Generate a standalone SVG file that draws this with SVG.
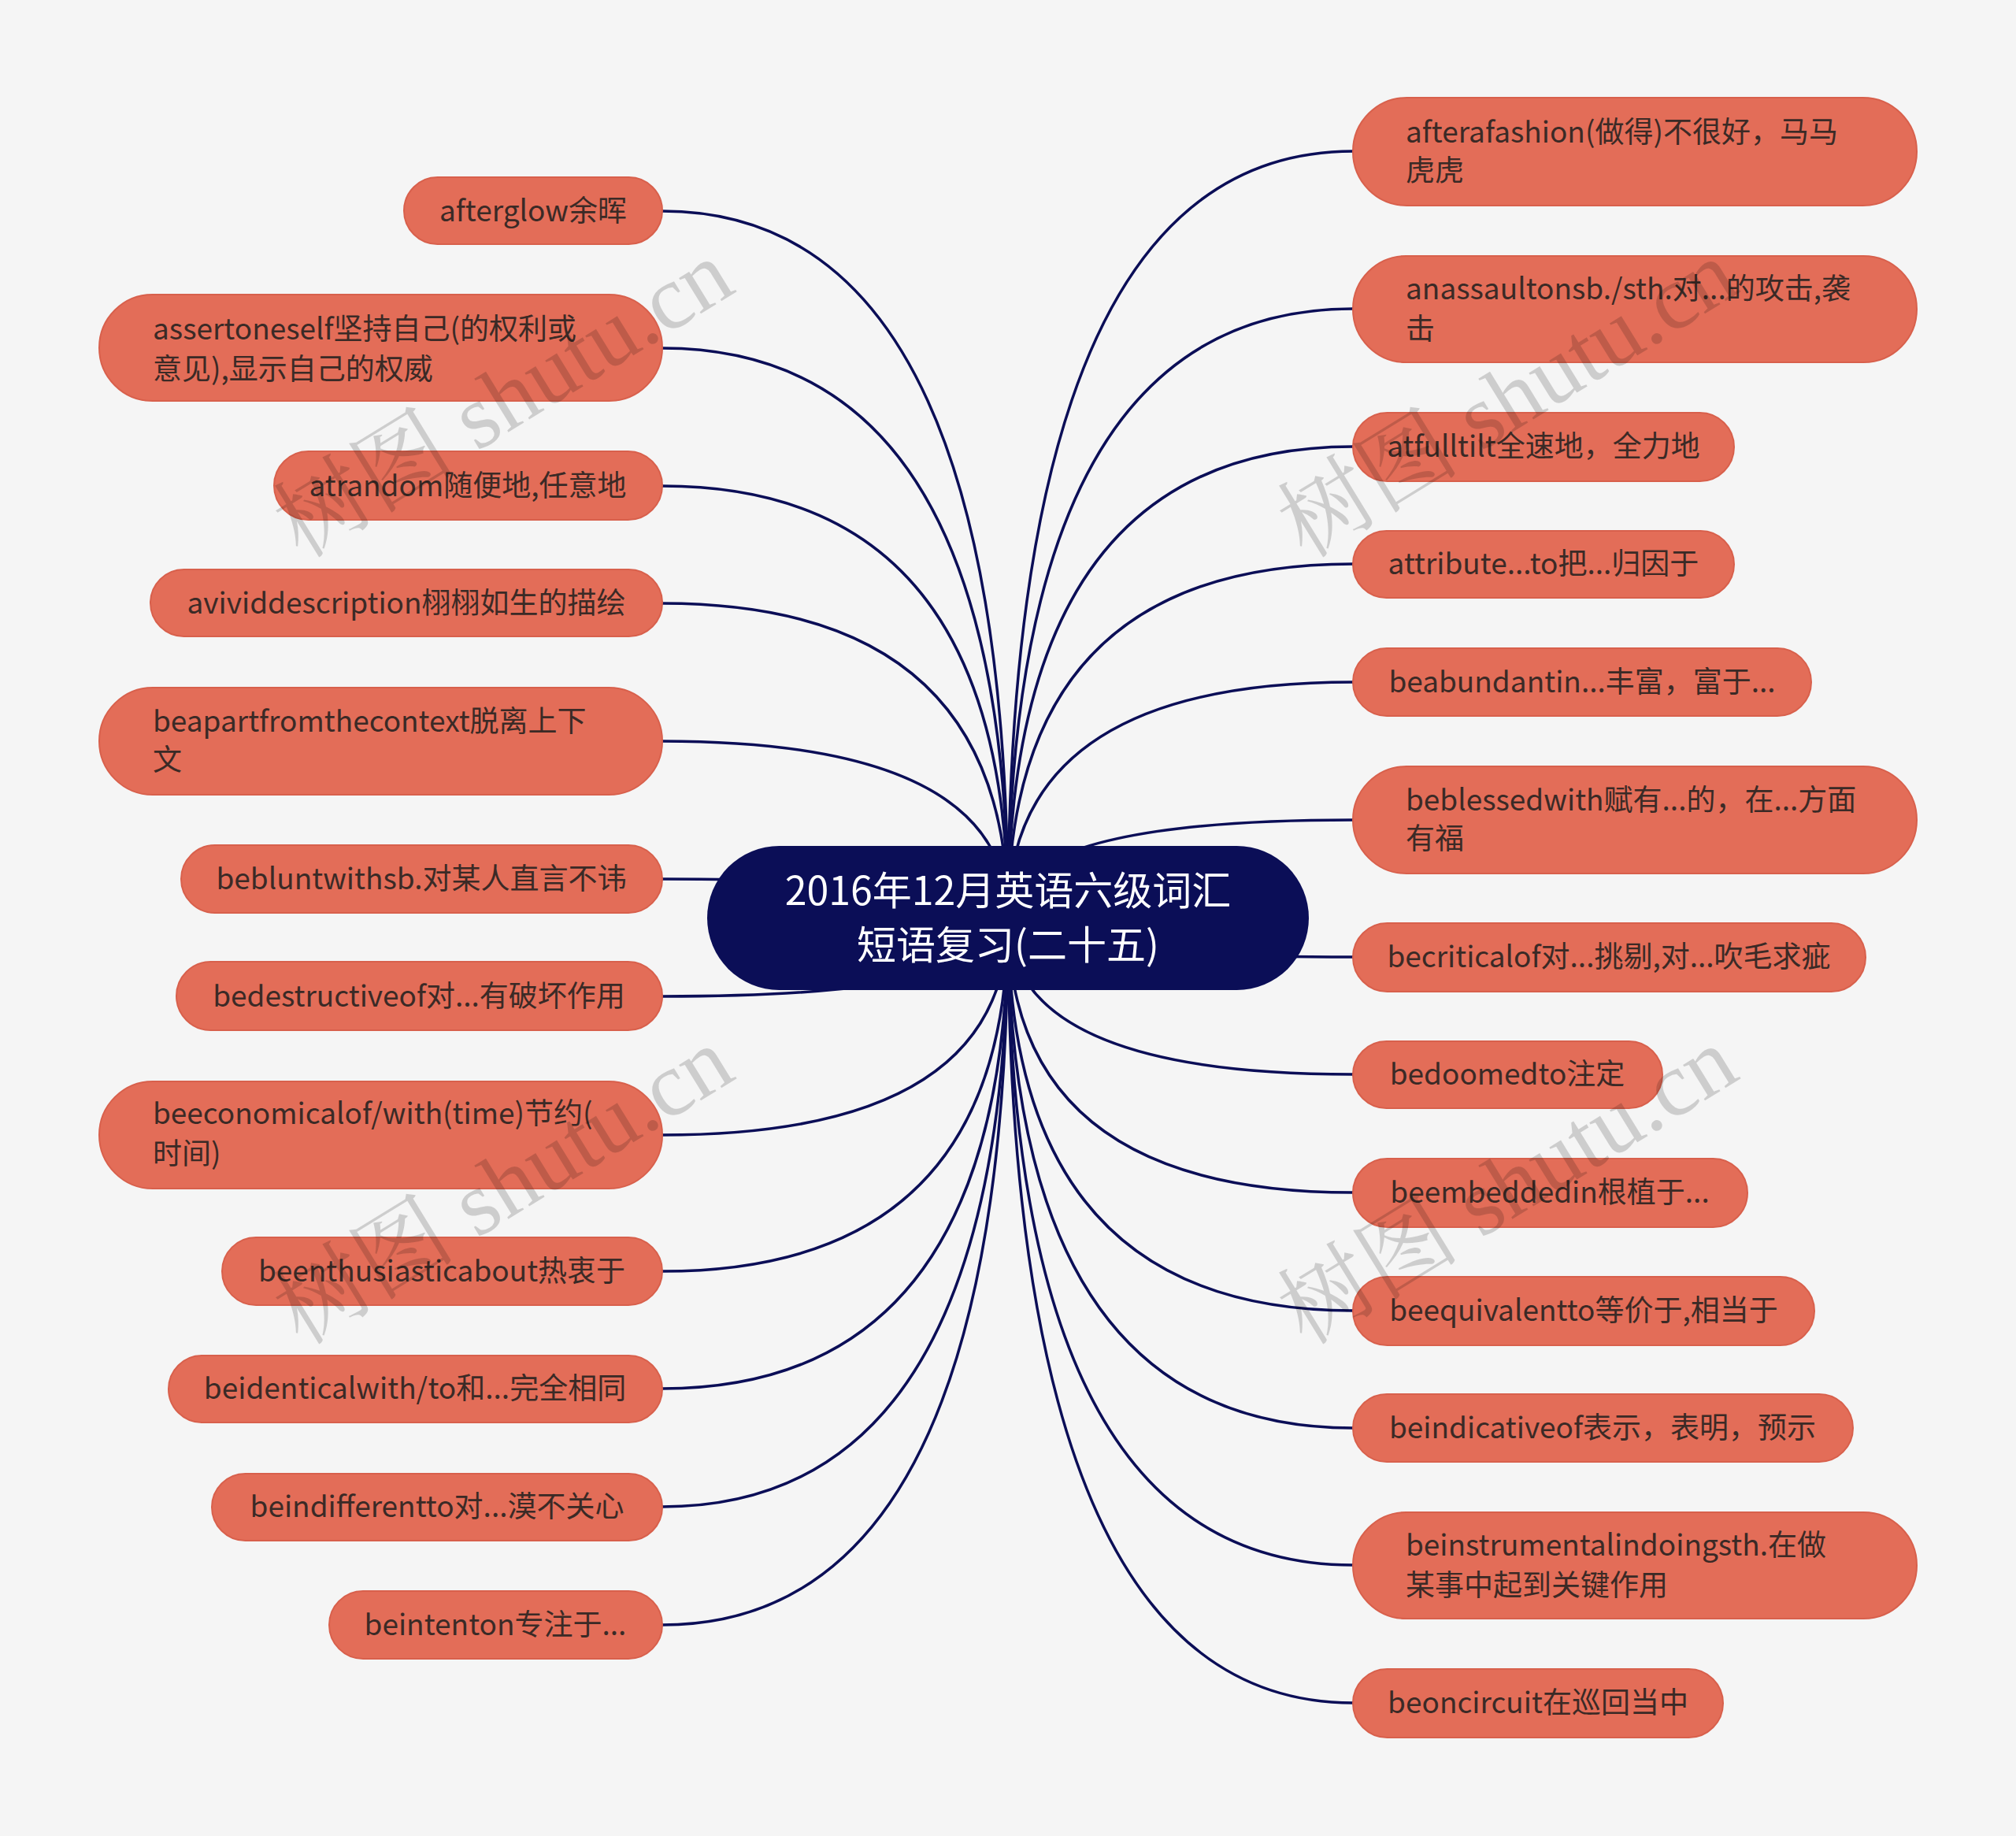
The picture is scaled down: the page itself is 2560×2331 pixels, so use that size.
<svg xmlns="http://www.w3.org/2000/svg" width="2560" height="2331" viewBox="0 0 2560 2331">
<style>
.bg{fill:#f5f5f5}
.n rect{fill:#e36d58;stroke:#d8604c;stroke-width:2}
.n text{font-family:"Noto Sans CJK SC","Noto Sans",sans-serif;font-size:37px;fill:#3b2a26}
.c{text-anchor:middle}
.root rect{fill:#0b0e57}
.root text{font-family:"Noto Sans CJK SC","Noto Sans",sans-serif;font-size:50px;fill:#ffffff;text-anchor:middle}
.links path{fill:none;stroke:#0b0e57;stroke-width:3.5}
.wm{font-family:"Liberation Serif","Noto Serif CJK SC","Noto Sans CJK SC",serif;font-size:116px;fill:#000;fill-opacity:0.16}
</style>
<rect class="bg" x="0" y="0" width="2560" height="2331"/>
<g class="links">
<path d="M1280 1165 Q1280 268 841 268"/>
<path d="M1280 1165 Q1280 442 841 442"/>
<path d="M1280 1165 Q1280 617 841 617"/>
<path d="M1280 1165 Q1280 766 841 766"/>
<path d="M1280 1165 Q1280 941 841 941"/>
<path d="M1280 1165 Q1280 1116 841 1116"/>
<path d="M1280 1165 Q1280 1265 841 1265"/>
<path d="M1280 1165 Q1280 1441 841 1441"/>
<path d="M1280 1165 Q1280 1614 841 1614"/>
<path d="M1280 1165 Q1280 1763 841 1763"/>
<path d="M1280 1165 Q1280 1913 841 1913"/>
<path d="M1280 1165 Q1280 2063 841 2063"/>
<path d="M1280 1165 Q1280 192 1718 192"/>
<path d="M1280 1165 Q1280 392 1718 392"/>
<path d="M1280 1165 Q1280 567 1718 567"/>
<path d="M1280 1165 Q1280 716 1718 716"/>
<path d="M1280 1165 Q1280 866 1718 866"/>
<path d="M1280 1165 Q1280 1041 1718 1041"/>
<path d="M1280 1165 Q1280 1215 1718 1215"/>
<path d="M1280 1165 Q1280 1364 1718 1364"/>
<path d="M1280 1165 Q1280 1514 1718 1514"/>
<path d="M1280 1165 Q1280 1664 1718 1664"/>
<path d="M1280 1165 Q1280 1813 1718 1813"/>
<path d="M1280 1165 Q1280 1987 1718 1987"/>
<path d="M1280 1165 Q1280 2162 1718 2162"/>
</g>
<g id="root" class="root">
<rect x="898" y="1074" width="764" height="183" rx="91.5"/>
<text x="1280" y="1149">2016年12月英语六级词汇</text>
<text x="1280" y="1218">短语复习(二十五)</text>
</g>
<g id="l1" class="n"><rect x="513" y="225" width="328" height="85" rx="42.5"/><text class="c" x="677" y="281">afterglow余晖</text></g>
<g id="l2" class="n"><rect x="126" y="374" width="715" height="135" rx="67.5"/><text x="194" y="431">assertoneself坚持自己(的权利或</text><text x="194" y="482">意见),显示自己的权威</text></g>
<g id="l3" class="n"><rect x="348" y="573" width="493" height="87" rx="43.5"/><text class="c" x="594" y="630">atrandom随便地,任意地</text></g>
<g id="l4" class="n"><rect x="191" y="723" width="650" height="85" rx="42.5"/><text class="c" x="516" y="779">avividdescription栩栩如生的描绘</text></g>
<g id="l5" class="n"><rect x="126" y="873" width="715" height="136" rx="68"/><text x="194" y="929">beapartfromthecontext脱离上下</text><text x="194" y="978">文</text></g>
<g id="l6" class="n"><rect x="230" y="1073" width="611" height="86" rx="43"/><text class="c" x="535" y="1129">bebluntwithsb.对某人直言不讳</text></g>
<g id="l7" class="n"><rect x="224" y="1221" width="617" height="87" rx="43.5"/><text class="c" x="532" y="1278">bedestructiveof对...有破坏作用</text></g>
<g id="l8" class="n"><rect x="126" y="1373" width="715" height="136" rx="68"/><text x="194" y="1427">beeconomicalof/with(time)节约(</text><text x="194" y="1478">时间)</text></g>
<g id="l9" class="n"><rect x="282" y="1571" width="559" height="86" rx="43"/><text class="c" x="561" y="1627">beenthusiasticabout热衷于</text></g>
<g id="l10" class="n"><rect x="214" y="1721" width="627" height="85" rx="42.5"/><text class="c" x="527" y="1776">beidenticalwith/to和...完全相同</text></g>
<g id="l11" class="n"><rect x="269" y="1871" width="572" height="85" rx="42.5"/><text class="c" x="555" y="1926">beindifferentto对...漠不关心</text></g>
<g id="l12" class="n"><rect x="418" y="2020" width="423" height="86" rx="43"/><text class="c" x="629" y="2076">beintenton专注于...</text></g>
<g id="r1" class="n"><rect x="1718" y="124" width="716" height="137" rx="68.5"/><text x="1785" y="181">afterafashion(做得)不很好，马马</text><text x="1785" y="230">虎虎</text></g>
<g id="r2" class="n"><rect x="1718" y="325" width="716" height="135" rx="67.5"/><text x="1785" y="380">anassaultonsb./sth.对...的攻击,袭</text><text x="1785" y="431">击</text></g>
<g id="r3" class="n"><rect x="1718" y="524" width="484" height="87" rx="43.5"/><text class="c" x="1960" y="580">atfulltilt全速地，全力地</text></g>
<g id="r4" class="n"><rect x="1718" y="674" width="484" height="85" rx="42.5"/><text class="c" x="1960" y="729">attribute...to把...归因于</text></g>
<g id="r5" class="n"><rect x="1718" y="823" width="582" height="86" rx="43"/><text class="c" x="2009" y="879">beabundantin...丰富，富于...</text></g>
<g id="r6" class="n"><rect x="1718" y="973" width="716" height="136" rx="68"/><text x="1785" y="1029">beblessedwith赋有...的，在...方面</text><text x="1785" y="1078">有福</text></g>
<g id="r7" class="n"><rect x="1718" y="1172" width="651" height="87" rx="43.5"/><text class="c" x="2043" y="1228">becriticalof对...挑剔,对...吹毛求疵</text></g>
<g id="r8" class="n"><rect x="1718" y="1322" width="393" height="85" rx="42.5"/><text class="c" x="1914" y="1377">bedoomedto注定</text></g>
<g id="r9" class="n"><rect x="1718" y="1471" width="501" height="87" rx="43.5"/><text class="c" x="1968" y="1527">beembeddedin根植于...</text></g>
<g id="r10" class="n"><rect x="1718" y="1621" width="586" height="87" rx="43.5"/><text class="c" x="2011" y="1677">beequivalentto等价于,相当于</text></g>
<g id="r11" class="n"><rect x="1718" y="1770" width="635" height="86" rx="43"/><text class="c" x="2035" y="1826">beindicativeof表示，表明，预示</text></g>
<g id="r12" class="n"><rect x="1718" y="1920" width="716" height="135" rx="67.5"/><text x="1785" y="1975">beinstrumentalindoingsth.在做</text><text x="1785" y="2026">某事中起到关键作用</text></g>
<g id="r13" class="n"><rect x="1718" y="2119" width="470" height="87" rx="43.5"/><text class="c" x="1953" y="2175">beoncircuit在巡回当中</text></g>
<g id="watermarks">
<text class="wm" text-anchor="middle" transform="translate(660 540) rotate(-31.6)">树图 shutu.cn</text>
<text class="wm" text-anchor="middle" transform="translate(1935 540) rotate(-31.6)">树图 shutu.cn</text>
<text class="wm" text-anchor="middle" transform="translate(660 1539) rotate(-31.6)">树图 shutu.cn</text>
<text class="wm" text-anchor="middle" transform="translate(1935 1539) rotate(-31.6)">树图 shutu.cn</text>
</g>
</svg>
